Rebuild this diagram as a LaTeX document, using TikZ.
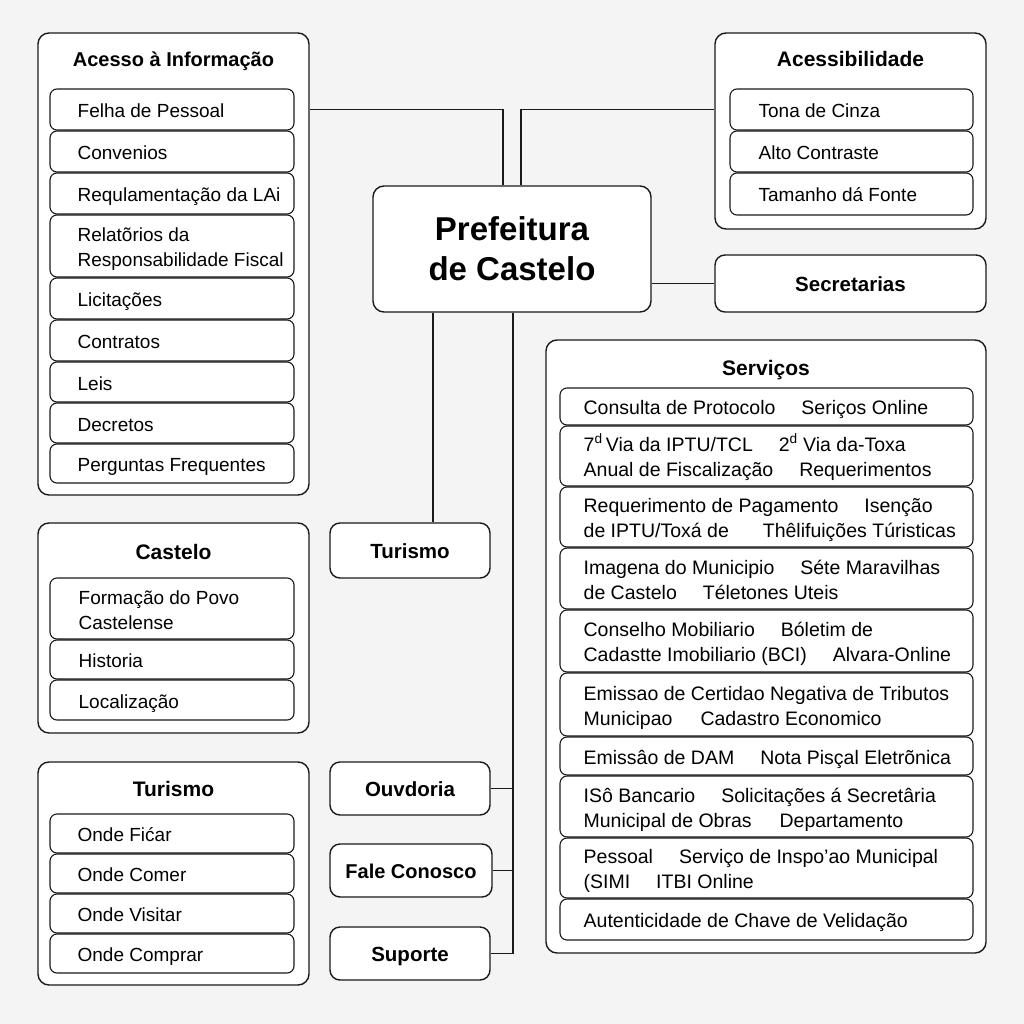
\documentclass[tikz,border=0pt]{standalone}
\usepackage{fontspec}
\setmainfont{Liberation Sans}
\definecolor{bgc}{HTML}{F4F4F4}
\definecolor{ln}{HTML}{1A1A1A}
\newcommand\bx[6]{\node[#1, minimum width={#4-#2}, minimum height={#5-#3}] (#6) at ({(#2+#4)/2},{(#3+#5)/2})}
\newcommand\ins{28}
\newcommand\itm[6]{\bx{inner}{#2}{#3}{#4}{#5}{#1}{};
 \node[itxt, anchor=west, yshift=-3pt] (#1t) at ([xshift=\ins pt]#1.west) {\begin{tabular}{@{}l@{}}#6\end{tabular}};}
\newcommand\gp{\hspace{26pt}}
\begin{document}
\begin{tikzpicture}[x=1pt,y=-1pt,
  outer/.style={draw=ln, fill=white, line width=1.4pt, rounded corners=11pt, inner sep=0pt},
  inner/.style={draw=ln, fill=white, line width=1.1pt, rounded corners=7pt, inner sep=0pt},
  itxt/.style={inner sep=0pt, font=\fontsize{19}{25}\selectfont, text=black},
  ttl/.style={inner sep=0pt, anchor=base, font=\bfseries\fontsize{21}{24}\selectfont, text=black},
  lbl/.style={outer, font=\bfseries\fontsize{20.5}{24}\selectfont, text height=16pt, text depth=0pt, rounded corners=10pt},
  conn/.style={draw=ln, line width=1.2pt}]
\fill[bgc] (0,0) rectangle (1024,1024);
\useasboundingbox (0,0) rectangle (1024,1024);

% ---- Acesso a Informacao
\bx{outer}{38}{33}{309}{495}{acesso} {};
\node[ttl, font=\bfseries\fontsize{20}{24}\selectfont] (acessot) at (173.5,67) {Acesso à Informação};
\renewcommand\ins{28}
\itm{f1}{50}{89}{294}{130}{Felha de Pessoal}
\itm{f2}{50}{131}{294}{172}{Convenios}
\itm{f3}{50}{173}{294}{214}{Requlamentação da LAi}
\itm{f4}{50}{215}{294}{277}{Relatõrios da\\Responsabilidade Fiscal}
\itm{f5}{50}{278}{294}{319}{Licitações}
\itm{f6}{50}{320}{294}{361}{Contratos}
\itm{f7}{50}{362}{294}{402}{Leis}
\itm{f8}{50}{403}{294}{443}{Decretos}
\itm{f9}{50}{444}{294}{483}{Perguntas Frequentes}

% ---- Acessibilidade
\bx{outer}{715}{33}{986}{229}{acess} {};
\node[ttl] (acesst) at (850.5,67) {Acessibilidade};
\renewcommand\ins{29}
\itm{a1}{730}{89}{973}{130}{Tona de Cinza}
\itm{a2}{730}{131}{973}{172}{Alto Contraste}
\itm{a3}{730}{173}{973}{215}{Tamanho dá Fonte}

% ---- Secretarias
\bx{lbl}{715}{255}{986}{312}{sec} {Secretarias};

% ---- Prefeitura
\bx{outer}{373}{186}{651}{312}{pref} {};
\node[font=\bfseries\fontsize{33}{40}\selectfont, align=center, inner sep=0pt] (preft) at (pref.center) {Prefeitura\\de Castelo};

% ---- Servicos
\bx{outer}{546}{340}{986}{953}{serv} {};
\node[ttl] (servt) at (766,375) {Serviços};
\renewcommand\ins{24}
\begin{scope}[itxt/.append style={font=\fontsize{19.5}{25}\selectfont}]
\itm{s1}{560}{388}{973}{425}{Consulta de Protocolo\gp Seriços Online}
\itm{s2}{560}{426}{973}{486}{7\textsuperscript{d}\,Via da IPTU/TCL\gp 2\textsuperscript{d} Via da-Toxa\\Anual de Fiscalização\gp Requerimentos}
\itm{s3}{560}{487}{973}{547}{Requerimento de Pagamento\gp Isenção\\de IPTU/Toxá de\hspace{34pt}Thêlifuições Túristicas}
\itm{s4}{560}{548}{973}{609}{Imagena do Municipio\gp Séte Maravilhas\\de Castelo\gp Téletones Uteis}
\itm{s5}{560}{610}{973}{672}{Conselho Mobiliario\gp Bóletim de\\Cadastte Imobiliario (BCI)\gp Alvara-Online}
\itm{s6}{560}{673}{973}{736}{Emissao de Certidao Negativa de Tributos\\Municipao\hspace{28pt}Cadastro Economico}
\itm{s7}{560}{737}{973}{775}{Emissâo de DAM\gp Nota Pisçal Eletrõnica}
\itm{s8}{560}{776}{973}{837}{ISô Bancario\gp Solicitações á Secretâria\\Municipal de Obras\hspace{28pt}Departamento}
\itm{s9}{560}{838}{973}{898}{Pessoal\gp Serviço de Inspo'ao Municipal\\(SIMI\gp ITBI Online}
\itm{s10}{560}{899}{973}{940}{Autenticidade de Chave de Velidação}
\end{scope}

% ---- Castelo
\bx{outer}{38}{523}{309}{733}{castelo} {};
\node[ttl] (castelot) at (173.5,559) {Castelo};
\renewcommand\ins{29}
\itm{c1}{50}{578}{294}{639}{Formação do Povo\\Castelense}
\itm{c2}{50}{640}{294}{679}{Historia}
\itm{c3}{50}{680}{294}{720}{Localização}

% ---- Turismo box
\bx{outer}{38}{762}{309}{985}{turbox} {};
\node[ttl] (turboxt) at (173.5,796) {Turismo};
\renewcommand\ins{28}
\itm{t1}{50}{814}{294}{853}{Onde Fićar}
\itm{t2}{50}{854}{294}{893}{Onde Comer}
\itm{t3}{50}{894}{294}{933}{Onde Visitar}
\itm{t4}{50}{934}{294}{973}{Onde Comprar}

% ---- small labels
\bx{lbl}{330}{523}{490}{578}{tur} {Turismo};
\bx{lbl}{330}{762}{490}{815}{ouv} {Ouvdoria};
\bx{lbl, font=\bfseries\fontsize{20}{24}\selectfont}{330}{844}{492}{897}{fale} {Fale Conosco};
\bx{lbl}{330}{927}{490}{980}{sup} {Suporte};

% ---- connectors
\coordinate (pbl) at ([xshift=-79pt]pref.south);
\coordinate (pbr) at ([xshift=1pt]pref.south);
\coordinate (ptl) at ([xshift=-9pt]pref.north);
\coordinate (ptr) at ([xshift=9pt]pref.north);
\draw[conn] (acesso.east |- f1) -| (ptl);
\draw[conn] (ptr) |- (acess.west |- a1);
\draw[conn] (pref.east |- sec) -- (sec.west);
\draw[conn] (pbl) -- (pbl |- tur.north);
\draw[conn] (pbr) |- (sup.east);
\draw[conn] (ouv.east) -- (ouv.east -| pbr);
\draw[conn] (fale.east) -- (fale.east -| pbr);
\end{tikzpicture}
\end{document}
